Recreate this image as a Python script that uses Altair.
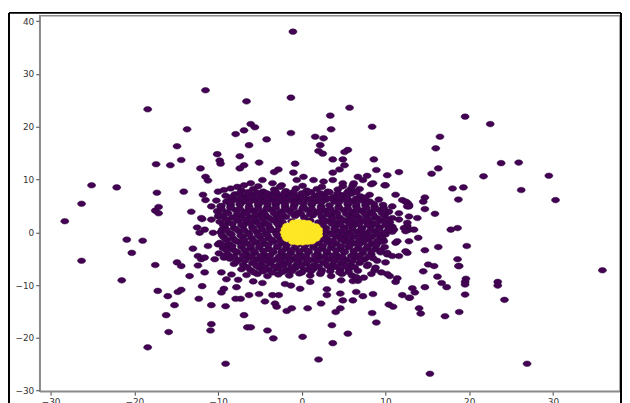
import altair as alt
import pandas as pd

# ---- sparse outer points ----
outer_top = [
    [-18.4, 23.3], [-13.7, 19.5], [-11.5, 26.9], [-1.06, 38.0], [-6.6, 24.8], [-1.3, 25.5],
    [5.7, 23.6], [3.4, 22.1], [3.5, 19.5], [8.4, 20.0], [-6.1, 20.5], [-5.6, 19.9],
    [-6.9, 19.3], [-7.9, 18.6], [-4.2, 17.6], [-1.3, 18.8], [1.6, 18.1], [2.6, 17.8],
    [19.5, 21.9], [22.5, 20.5], [16.5, 18.1],
]
outer_left = [
    [-28.3, 2.1], [-26.3, 5.4], [-25.1, 8.9], [-22.1, 8.5], [-17.4, 12.9], [-15.7, 12.7],
    [-14.9, 16.3], [-14.4, 13.7], [-17.3, 7.5], [-14.1, 7.7], [-17.5, 4.1], [-17.1, 4.8],
    [-17.1, 3.6], [-13.2, 3.9], [-11.9, 2.5], [-12.1, 12.1], [-11.5, 10.5], [-11.2, 9.8],
    [-11.8, 7.1], [-11.5, 6.1], [-12.5, 0.9], [-12.2, -0.1], [-20.9, -1.4], [-19.0, -1.6],
    [-20.3, -3.9], [-26.3, -5.4], [-17.5, -6.2], [-14.9, -5.7], [-14.4, -6.4], [-13.0, -3.1],
    [-12.4, -4.5], [-12.0, -5.1], [-12.4, -6.3],
]
outer_lower_left = [
    [-21.5, -9.1], [-17.2, -11.1], [-16.0, -12.1], [-14.8, -11.3], [-14.4, -10.9],
    [-15.2, -13.8], [-16.2, -15.7], [-15.9, -18.9], [-18.4, -21.8], [-13.4, -8.3],
    [-11.6, -7.6], [-11.9, -10.2], [-12.3, -12.6], [-10.8, -17.4], [-10.9, -18.6],
]
outer_bottom = [
    [-9.1, -24.9], [-6.9, -15.7], [-6.5, -18.0], [-6.1, -18.0], [-4.1, -18.6], [-3.4, -20.1],
    [0.1, -19.8], [2.0, -24.1], [3.7, -21.0], [3.6, -17.6], [5.5, -19.2], [8.9, -17.1],
    [8.4, -15.3], [10.4, -13.7], [10.9, -14.1], [-10.8, -13.8], [-9.1, -14.0], [-9.6, -11.4],
    [-9.3, -10.7], [-7.8, -10.4], [-7.3, -12.6], [-7.9, -12.6], [-6.3, -11.9], [-5.1, -11.7],
    [-4.4, -13.1], [-3.2, -13.5], [-3.0, -14.1], [-1.8, -14.9], [-1.2, -14.4], [0.7, -14.4],
    [2.3, -13.5], [4.05, -15.1], [4.6, -14.4], [4.9, -12.9], [6.1, -12.9], [3.0, -11.9],
    [3.0, -10.8], [4.6, -11.6], [6.5, -11.3], [6.7, -9.2], [7.3, -12.1], [8.5, -11.7],
    [12.0, -11.9], [12.8, -12.4], [11.2, -9.4], [11.4, -8.7], [10.5, -8.3], [8.3, -7.9],
    [8.7, -7.2], [4.7, -9.1], [6.1, -9.25], [1.0, -9.4], [-0.2, -10.7], [-2.0, -9.8],
    [-1.3, -10.1], [-2.75, -11.9], [-3.5, -11.9],
]
outer_lower_right = [
    [35.9, -7.2], [26.9, -24.9], [15.3, -26.8], [23.4, -9.4], [23.4, -10.1], [24.2, -12.8],
    [19.6, -8.8], [19.5, -9.4], [19.5, -9.9], [19.5, -11.8], [18.8, -15.1], [17.1, -15.9],
    [14.0, -14.4], [14.2, -15.4], [14.7, -10.4], [13.2, -10.6], [13.5, -11.4], [12.9, -12.4],
    [16.7, -9.6], [17.3, -10.4], [16.2, -8.4], [14.5, -7.4], [15.1, -6.1], [15.8, -6.4],
    [18.8, -6.4],
]
outer_right = [
    [16.0, 15.9], [23.8, 13.1], [25.9, 13.2], [21.7, 10.6], [29.5, 10.7], [26.2, 8.0],
    [30.3, 6.1], [16.3, 12.1], [15.5, 11.1], [18.0, 8.3], [19.3, 8.5], [18.7, 6.2],
    [14.7, 6.6], [14.5, 5.8], [14.7, 4.4], [15.9, 3.5], [13.8, 2.7], [12.8, 4.9],
    [12.6, 5.6], [17.8, 0.5], [18.6, 0.8], [12.8, 0.5], [12.6, 1.2], [13.9, -1.05],
    [14.7, -3.4], [16.3, -2.8], [19.7, -2.6], [18.6, -5.1], [18.7, -6.4], [12.6, -3.9],
]
ring_points = [
    [-6.3, 16.5], [2.2, 16.5], [2.5, 14.9], [2.0, 15.4], [5.5, 15.6], [5.1, 15.2],
    [-7.4, 14.4], [-10.1, 14.8], [-9.8, 13.6], [-9.7, 13.0], [-5.1, 13.2], [-0.8, 13.0],
    [3.7, 13.8], [4.9, 13.8], [-7.4, 12.1], [-6.9, 12.7], [-2.8, 11.9], [-3.3, 11.4],
    [-1.0, 11.3], [5.1, 12.7], [4.5, 11.9], [3.7, 11.3], [8.9, 11.8], [10.2, 10.8],
    [11.6, 11.4], [7.3, 9.9], [8.5, 9.3], [9.9, 8.9], [-10.0, 7.7], [-9.3, 8.0],
    [-8.5, 8.3], [-7.7, 8.6], [-6.9, 8.9], [-6.1, 9.3], [-4.7, 9.9], [-3.5, 9.3],
    [-2.4, 8.9], [-0.6, 9.9], [0.2, 10.5], [1.4, 9.9], [2.6, 9.6], [3.7, 9.9],
    [4.9, 9.3], [6.1, 8.9], [12.0, 6.1], [12.8, 5.2], [11.2, 7.1], [10.4, 3.9],
    [11.6, 3.6], [12.8, 3.0], [10.8, 1.1], [12.2, 0.8], [13.4, 0.5], [9.7, -1.4],
    [11.2, -2.0], [12.8, -1.7], [10.2, -4.2], [11.6, -4.5], [-12.0, 2.7], [-10.8, 2.4],
    [-10.0, 3.0], [-11.6, 0.5], [-10.6, -0.1], [-9.5, 0.5], [-11.2, -2.6], [-10.0, -2.3],
    [-8.9, -2.9], [-11.6, -4.8], [-10.4, -5.1], [-9.3, -4.8], [-10.8, 4.9], [-9.7, 4.9],
    [-8.5, 5.2], [-7.3, 5.5], [8.6, 13.8], [7.8, 10.7], [6.7, 10.5], [6.2, 9.3],
    [5.9, 8.3], [8.3, 9.1], [10.0, 8.9], [12.4, 5.8], [12.6, 4.9], [10.8, 2.7],
    [11.6, 2.4], [12.6, 1.8], [11.0, 0.5], [12.4, 0.2], [10.0, -0.4], [9.8, -1.7],
    [11.4, -1.7], [12.4, -3.6], [10.2, -3.9], [10.8, -4.5], [9.0, -5.4], [10.0, -5.7],
    [7.8, -6.4], [8.8, -6.7], [6.7, -7.3], [10.2, -7.9],
]

# ---- dense core (purple) ----
core_upper = [
    [-7.2, 7.9], [-5.8, 8.2], [-4.6, 7.7], [-3.3, 8.1], [-1.9, 7.8], [-0.7, 8.3], [0.6, 7.9],
    [1.8, 8.2], [3.1, 7.7], [4.3, 8.1], [5.6, 7.8], [6.9, 8.2],
    [-9.1, 6.9], [-8.0, 7.2], [-6.9, 6.8], [-5.9, 7.1], [-4.8, 6.7], [-3.7, 7.2], [-2.7, 6.9],
    [-1.6, 7.1], [-0.5, 6.8], [0.5, 7.2], [1.6, 6.9], [2.7, 7.1], [3.8, 6.7], [4.8, 7.0],
    [5.9, 7.3], [7.0, 6.8], [8.1, 7.1],
    [-10.2, 6.0], [-9.0, 5.8], [-7.9, 6.2], [-6.8, 5.9], [-5.7, 6.1], [-4.6, 5.8], [-3.6, 6.2],
    [-2.5, 5.9], [-1.4, 6.1], [-0.4, 5.8], [0.7, 6.2], [1.7, 5.9], [2.8, 6.1], [3.9, 5.8],
    [4.9, 6.2], [6.0, 5.9], [7.1, 6.1], [8.1, 5.8], [9.2, 6.2],
    [-9.6, 5.0], [-8.5, 4.8], [-7.4, 5.2], [-6.3, 4.9], [-5.2, 5.1], [-4.1, 4.8], [-3.1, 5.2],
    [-2.0, 4.9], [-0.9, 5.1], [0.2, 4.8], [1.2, 5.2], [2.3, 4.9], [3.3, 5.1], [4.4, 4.8],
    [5.5, 5.2], [6.5, 4.9], [7.6, 5.1], [8.7, 4.8], [9.7, 5.2], [10.8, 4.9],
    [-10.1, 4.0], [-9.0, 3.8], [-7.9, 4.2], [-6.8, 3.9], [-5.8, 4.1], [-4.7, 3.8], [-3.6, 4.2],
    [-2.5, 3.9], [-1.5, 4.1], [-0.4, 3.8], [0.7, 4.2], [1.8, 3.9], [2.8, 4.1], [3.9, 3.8],
    [5.0, 4.2], [6.1, 3.9], [7.1, 4.1], [8.2, 3.8], [9.3, 4.2], [10.3, 3.9],
]
core_mid = [
    [-9.4, 3.0], [-8.3, 2.8], [-7.2, 3.2], [-6.2, 2.9], [-5.1, 3.1], [-4.0, 2.8], [-3.0, 3.2],
    [-1.9, 2.9], [-0.8, 3.1], [0.3, 2.8], [1.3, 3.2], [2.4, 2.9], [3.5, 3.1], [4.5, 2.8],
    [5.6, 3.2], [6.7, 2.9], [7.7, 3.1], [8.8, 2.8], [9.9, 3.2],
    [-9.8, 2.0], [-8.7, 1.8], [-7.6, 2.2], [-6.5, 1.9], [-5.5, 2.1], [-4.4, 1.8], [-3.3, 2.2],
    [-2.3, 1.9], [-1.2, 2.1], [-0.1, 1.8], [1.0, 2.2], [2.0, 1.9], [3.1, 2.1], [4.2, 1.8],
    [5.2, 2.2], [6.3, 1.9], [7.4, 2.1], [8.4, 1.8], [9.5, 2.2], [10.5, 1.9],
    [-9.2, 1.0], [-8.1, 0.8], [-7.0, 1.2], [-5.9, 0.9], [-4.9, 1.1], [-3.8, 0.8], [-2.7, 1.2],
    [-1.7, 0.9], [1.9, 1.1], [2.9, 0.8], [4.0, 1.2], [5.1, 0.9], [6.1, 1.1], [7.2, 0.8],
    [8.3, 1.2], [9.3, 0.9], [10.4, 1.1],
    [-9.7, 0.0], [-8.6, -0.2], [-7.5, 0.2], [-6.4, -0.1], [-5.4, 0.1], [-4.3, -0.2], [-3.2, 0.2],
    [-2.2, -0.1], [2.3, 0.1], [3.4, -0.2], [4.4, 0.2], [5.5, -0.1], [6.6, 0.1], [7.6, -0.2],
    [8.7, 0.2], [9.8, -0.1], [10.8, 0.1],
    [-9.3, -1.0], [-8.2, -1.2], [-7.1, -0.8], [-6.0, -1.1], [-5.0, -0.9], [-3.9, -1.2],
    [-2.8, -0.8], [-1.8, -1.1], [2.0, -0.9], [3.0, -1.2], [4.1, -0.8], [5.2, -1.1], [6.2, -0.9],
    [7.3, -1.2], [8.4, -0.8], [9.4, -1.1],
]
core_lower = [
    [-9.8, -2.0], [-8.7, -2.2], [-7.6, -1.8], [-6.6, -2.1], [-5.5, -1.9], [-4.4, -2.2],
    [-3.4, -1.8], [-2.3, -2.1], [-1.2, -1.9], [-0.1, -2.2], [0.9, -1.8], [2.0, -2.1],
    [3.1, -1.9], [4.1, -2.2], [5.2, -1.8], [6.3, -2.1], [7.3, -1.9], [8.4, -2.2], [9.5, -1.8],
    [-9.4, -3.0], [-8.3, -3.2], [-7.2, -2.8], [-6.1, -3.1], [-5.1, -2.9], [-4.0, -3.2],
    [-2.9, -2.8], [-1.9, -3.1], [-0.8, -2.9], [0.3, -3.2], [1.4, -2.8], [2.4, -3.1],
    [3.5, -2.9], [4.6, -3.2], [5.6, -2.8], [6.7, -3.1], [7.8, -2.9], [8.8, -3.2], [9.9, -2.8],
    [-9.9, -4.0], [-8.8, -4.2], [-7.7, -3.8], [-6.6, -4.1], [-5.6, -3.9], [-4.5, -4.2],
    [-3.4, -3.8], [-2.4, -4.1], [-1.3, -3.9], [-0.2, -4.2], [0.8, -3.8], [1.9, -4.1],
    [3.0, -3.9], [4.1, -4.2], [5.1, -3.8], [6.2, -4.1], [7.3, -3.9], [8.3, -4.2], [9.4, -3.8],
    [-8.6, -5.0], [-7.5, -5.2], [-6.4, -4.8], [-5.3, -5.1], [-4.3, -4.9], [-3.2, -5.2],
    [-2.1, -4.8], [-1.1, -5.1], [0.0, -4.9], [1.1, -5.2], [2.1, -4.8], [3.2, -5.1],
    [4.3, -4.9], [5.3, -5.2], [6.4, -4.8], [7.5, -5.1], [8.5, -4.9],
    [-8.1, -6.0], [-7.0, -6.2], [-5.9, -5.8], [-4.9, -6.1], [-3.8, -5.9], [-2.7, -6.2],
    [-1.7, -5.8], [-0.6, -6.1], [0.5, -5.9], [1.5, -6.2], [2.6, -5.8], [3.7, -6.1],
    [4.7, -5.9], [5.8, -6.2], [6.9, -5.8], [7.9, -6.1],
    [-7.2, -7.0], [-6.1, -7.2], [-5.0, -6.8], [-4.0, -7.1], [-2.9, -6.9], [-1.8, -7.2],
    [-0.8, -6.8], [0.3, -7.1], [1.4, -6.9], [2.4, -7.2], [3.5, -6.8], [4.6, -7.1], [5.6, -6.9],
    [-6.6, -8.1], [-5.3, -7.9], [-4.1, -8.3], [-2.8, -8.0], [-1.5, -8.2], [-0.3, -7.8],
    [1.0, -8.2], [2.2, -7.9], [3.5, -8.3], [4.8, -7.9], [6.0, -8.2],
    [-9.6, -7.6], [-8.4, -8.0], [-7.6, -9.0], [-9.0, -8.9], [-5.8, -9.3], [-4.7, -9.6],
    [6.5, -8.5], [7.4, -8.6], [9.5, -7.6],
]
core_fill_upper = [
    [-5.2, 8.7], [-2.6, 8.6], [0.1, 8.8], [2.4, 8.6], [4.9, 8.7],
    [-7.4, 7.4], [-6.4, 7.6], [-5.3, 7.5], [-4.2, 7.4], [-3.1, 7.6], [-2.1, 7.4],
    [-1.0, 7.6], [0.0, 7.4], [1.1, 7.6], [2.2, 7.4], [3.3, 7.6], [4.3, 7.4], [5.4, 7.5],
    [6.5, 7.6],
    [-8.5, 6.6], [-7.4, 6.4], [-6.3, 6.6], [-5.2, 6.5], [-4.1, 6.4], [-3.1, 6.6],
    [-2.0, 6.4], [-0.9, 6.6], [0.1, 6.5], [1.2, 6.4], [2.3, 6.6], [3.3, 6.4], [4.4, 6.6],
    [5.4, 6.5], [6.5, 6.4], [7.6, 6.6],
    [-8.5, 5.6], [-7.4, 5.4], [-6.3, 5.6], [-5.2, 5.5], [-4.1, 5.4], [-3.1, 5.6],
    [-2.0, 5.4], [-0.9, 5.6], [0.2, 5.5], [1.2, 5.4], [2.3, 5.6], [4.4, 5.6],
    [5.5, 5.5], [6.5, 5.4], [7.6, 5.6], [8.6, 5.4],
    [-9.6, 4.4], [-8.5, 4.6], [-7.4, 4.4], [-6.3, 4.6], [-5.2, 4.5], [-4.2, 4.4], [-3.1, 4.6],
    [-2.0, 4.4], [-1.0, 4.6], [0.1, 4.5], [1.2, 4.4], [2.3, 4.6], [3.4, 4.4], [4.4, 4.6],
    [5.5, 4.5], [6.6, 4.4], [7.7, 4.6], [8.7, 4.4], [9.8, 4.6],
    [-9.9, 3.4], [-8.8, 3.6], [-7.7, 3.4], [-6.6, 3.6], [-5.5, 3.5], [-4.4, 3.4], [-3.3, 3.6],
    [-2.3, 3.4], [-1.2, 3.6], [-0.1, 3.5], [1.0, 3.4], [2.1, 3.6], [3.1, 3.4], [4.2, 3.6],
    [5.3, 3.5], [6.4, 3.4], [7.5, 3.6], [8.5, 3.4], [9.6, 3.6],
]
core_fill_mid = [
    [-9.0, 2.4], [-7.9, 2.6], [-6.8, 2.4], [-5.8, 2.6], [-4.7, 2.5], [-3.6, 2.4], [-2.6, 2.6],
    [2.6, 2.4], [3.7, 2.6], [4.8, 2.4], [5.9, 2.6], [6.9, 2.5], [8.0, 2.4], [9.1, 2.6], [10.2, 2.4],
    [-9.4, 1.4], [-8.3, 1.6], [-7.2, 1.4], [-6.1, 1.6], [-5.1, 1.5], [-4.0, 1.4], [-2.9, 1.6],
    [2.5, 1.4], [3.6, 1.6], [4.6, 1.4], [5.7, 1.6], [6.8, 1.5], [7.9, 1.4], [8.9, 1.6], [10.0, 1.4],
    [-9.0, 0.4], [-7.9, 0.6], [-6.9, 0.4], [-5.8, 0.6], [-4.7, 0.5], [-3.7, 0.4], [-2.7, 0.6],
    [2.8, 0.4], [3.9, 0.6], [5.0, 0.4], [6.0, 0.6], [7.1, 0.5], [8.2, 0.4], [9.2, 0.6], [10.3, 0.4],
    [-9.5, -0.6], [-8.4, -0.4], [-7.3, -0.6], [-6.3, -0.4], [-5.2, -0.5], [-4.1, -0.6], [-3.0, -0.4],
    [2.6, -0.6], [3.7, -0.4], [4.8, -0.6], [5.8, -0.4], [6.9, -0.5], [8.0, -0.6], [9.1, -0.4],
    [-9.0, -1.4], [-7.9, -1.6], [-6.9, -1.4], [-5.8, -1.6], [-4.7, -1.5], [-3.6, -1.4], [-2.6, -1.6],
    [2.6, -1.4], [3.7, -1.6], [4.7, -1.4], [5.8, -1.6], [6.9, -1.5], [8.0, -1.4], [9.0, -1.6],
]
core_fill_lower = [
    [-9.4, -2.4], [-8.3, -2.6], [-7.2, -2.4], [-6.1, -2.6], [-5.0, -2.5], [-4.0, -2.4],
    [-2.9, -2.6], [-1.8, -2.4], [-0.7, -2.6], [0.4, -2.5], [1.4, -2.4], [2.5, -2.6],
    [3.6, -2.4], [4.7, -2.6], [5.7, -2.5], [6.8, -2.4], [7.9, -2.6], [8.9, -2.4],
    [-9.0, -3.4], [-7.9, -3.6], [-6.8, -3.4], [-5.7, -3.6], [-4.6, -3.5], [-3.5, -3.4],
    [-2.4, -3.6], [-1.3, -3.4], [-0.3, -3.6], [0.8, -3.5], [1.9, -3.4], [3.0, -3.6],
    [4.1, -3.4], [5.1, -3.6], [6.2, -3.5], [7.3, -3.4], [8.3, -3.6], [9.4, -3.4],
    [-9.2, -4.4], [-8.1, -4.6], [-7.0, -4.4], [-6.0, -4.6], [-4.9, -4.5], [-3.8, -4.4],
    [-2.7, -4.6], [-1.6, -4.4], [-0.6, -4.6], [0.5, -4.5], [1.6, -4.4], [2.7, -4.6],
    [3.7, -4.4], [4.8, -4.6], [5.9, -4.5], [6.9, -4.4], [8.0, -4.6],
    [-7.8, -5.6], [-6.8, -5.4], [-5.7, -5.6], [-4.6, -5.5], [-3.6, -5.4],
    [-2.5, -5.6], [-1.4, -5.4], [-0.4, -5.6], [0.7, -5.5], [1.8, -5.4], [2.8, -5.6],
    [3.9, -5.4], [5.0, -5.6], [6.0, -5.5], [7.1, -5.4],
    [-6.5, -6.6], [-5.4, -6.4], [-4.4, -6.6], [-3.3, -6.5], [-2.2, -6.4],
    [-1.2, -6.6], [-0.1, -6.4], [1.0, -6.6], [2.0, -6.5], [3.1, -6.4], [4.2, -6.6],
    [5.2, -6.4], [6.3, -6.6],
    [-5.7, -7.6], [-4.6, -7.4], [-3.5, -7.6], [-2.3, -7.5], [-1.2, -7.4],
    [0.0, -7.6], [1.1, -7.4], [2.3, -7.6], [3.4, -7.4], [4.5, -7.6], [5.6, -7.5],
]

# ---- central yellow cluster ----
yellow_points = [
    [-1.0, 1.8], [-0.4, 1.9], [0.2, 1.8], [0.8, 1.7],
    [-1.8, 1.2], [-1.2, 1.2], [-0.6, 1.3], [0.0, 1.2], [0.6, 1.2], [1.2, 1.2], [1.7, 1.1],
    [-2.0, 0.6], [-1.4, 0.6], [-0.8, 0.6], [-0.2, 0.6], [0.4, 0.6], [1.0, 0.6], [1.6, 0.6], [2.0, 0.5],
    [-2.1, 0.0], [-1.5, 0.0], [-0.9, 0.0], [-0.3, 0.0], [0.3, 0.0], [0.9, 0.0], [1.5, 0.0], [2.0, 0.0],
    [-2.0, -0.6], [-1.4, -0.6], [-0.8, -0.6], [-0.2, -0.6], [0.4, -0.6], [1.0, -0.6], [1.6, -0.6], [2.0, -0.6],
    [-1.8, -1.2], [-1.2, -1.2], [-0.6, -1.2], [0.0, -1.2], [0.6, -1.2], [1.2, -1.2], [1.7, -1.2],
    [-1.1, -1.8], [-0.5, -1.9], [0.1, -1.9], [0.7, -1.8], [1.2, -1.7],
]

x_ticks = [-30, -20, -10, 0, 10, 20, 30]
y_ticks = [-30, -20, -10, 0, 10, 20, 30, 40]

purple_all = (outer_top + outer_left + outer_lower_left + outer_bottom + outer_lower_right
              + outer_right + ring_points + core_upper + core_mid + core_lower
              + core_fill_upper + core_fill_mid + core_fill_lower)
df_p = pd.DataFrame(purple_all, columns=["x", "y"])
df_y = pd.DataFrame(yellow_points, columns=["x", "y"])

W, H = 586, 379
xs = alt.Scale(domain=[-31.3, 38.0], nice=False, zero=False)
ys = alt.Scale(domain=[-30.1, 41.0], nice=False, zero=False)

ellipse = "M -1 0 A 1 0.7 0 1 1 1 0 A 1 0.7 0 1 1 -1 0 Z"

xenc = alt.X("x:Q", scale=xs, title=None,
             axis=alt.Axis(values=x_ticks, format="d",
                           labelExpr="replace(datum.label, '-', '\u2212')"))
yenc = alt.Y("y:Q", scale=ys, title=None,
             axis=alt.Axis(values=y_ticks, format="d",
                           labelExpr="replace(datum.label, '-', '\u2212')"))

purple = alt.Chart(df_p).mark_point(
    shape=ellipse, size=66, filled=True, fill="#440154", fillOpacity=1,
    stroke="#2a0a3c", strokeWidth=0.5, opacity=1
).encode(x=xenc, y=yenc)

yellow = alt.Chart(df_y).mark_point(
    shape=ellipse, size=66, filled=True, fill="#fde725", fillOpacity=1,
    stroke="#fde725", strokeWidth=0.6, opacity=1
).encode(x=alt.X("x:Q", scale=xs), y=alt.Y("y:Q", scale=ys))

one = pd.DataFrame({"k": [0]})
border_left = alt.Chart(one).mark_rule(color="black", strokeWidth=2).encode(
    x=alt.value(-31), y=alt.value(-3), y2=alt.value(H + 12))
border_top = alt.Chart(one).mark_rule(color="black", strokeWidth=2).encode(
    x=alt.value(-31), x2=alt.value(W + 1), y=alt.value(-3))
border_right = alt.Chart(one).mark_rule(color="black", strokeWidth=2).encode(
    x=alt.value(W + 1), y=alt.value(-3), y2=alt.value(H + 12))

chart = alt.layer(purple, yellow, border_left, border_top, border_right).properties(
    width=W, height=H,
    autosize=alt.AutoSizeParams(type="none"),
    padding={"left": 32, "top": 6, "right": 2, "bottom": 10},
    background="white",
).configure_view(
    stroke="#8a8a8a", strokeWidth=1.5
).configure_axis(
    grid=False, domainColor="#8a8a8a", domainWidth=1.5, tickColor="#444",
    tickSize=4, labelFont="DejaVu Sans", labelFontSize=9, labelColor="#333",
    labelPadding=2
)

chart.save("out.html", embed_options={"renderer": "svg", "actions": False})
